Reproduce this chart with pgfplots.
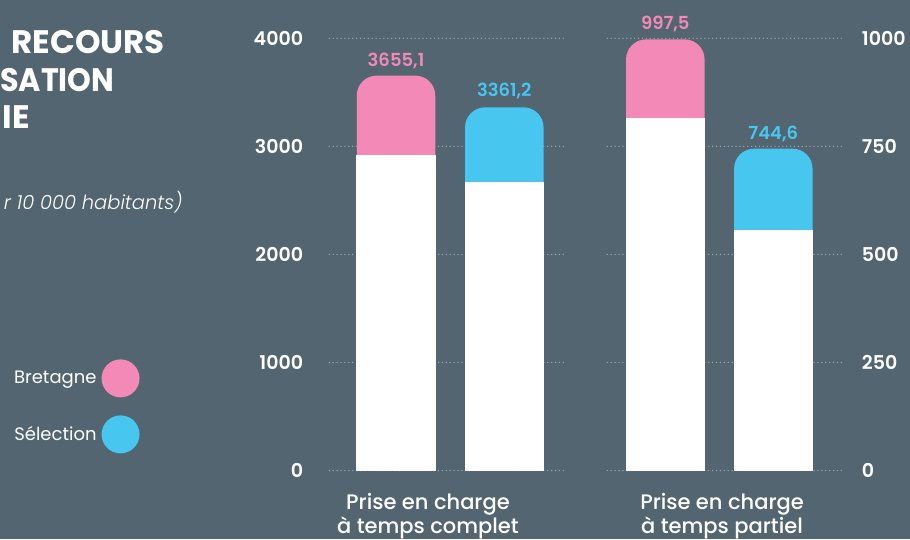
\documentclass[border=0pt]{standalone}
\usepackage{fontspec}
\setmainfont{Poppins}
\newfontfamily\psemi{Poppins SemiBold}
\newfontfamily\pmed{Poppins Medium}
\newfontfamily\plight{Poppins Light}
\usepackage{pgfplots}
\pgfplotsset{compat=1.18}
\definecolor{bg}{HTML}{536570}
\definecolor{pinkc}{HTML}{F289B6}
\definecolor{bluec}{HTML}{47C7F0}
\definecolor{gridc}{HTML}{97A4AC}
\pgfplotsset{
  baseax/.style={
    scale only axis, height=432.2pt, ymin=0, clip=false,
    axis line style={draw=none}, tick style={draw=none}, major tick length=0pt,
    ymajorgrids,
    grid style={gridc, line width=1.5pt, dash pattern=on 0pt off 3.9pt, line cap=round},
    yticklabel style={text=white, font=\psemi\fontsize{19}{19}\selectfont, inner sep=0pt},
    xticklabel style={text=white, font=\pmed\fontsize{21}{23.5}\selectfont, align=center, inner sep=0pt, anchor=north, yshift=-23pt},
    /pgf/number format/assume math mode=true,
    /pgf/number format/1000 sep={},
  },
  barst/.style={ybar, bar width=78.5, bar shift=0pt, draw=none},
  whitest/.style={ybar, bar width=78.5, bar shift=0pt, fill=white, draw=white, line width=0.8pt},
}
\begin{document}
\begin{tikzpicture}
\fill[bg] (0pt,0pt) rectangle (910pt,539pt);
% title (cut off at the left edge)
\node[anchor=base east, text=white, font=\bfseries\fontsize{32.5}{32.5}\selectfont, inner sep=0pt] at (165pt,485.7pt) {RECOURS};
\node[anchor=base west, text=white, font=\bfseries\fontsize{32.5}{32.5}\selectfont, inner sep=0pt, xscale=0.93] at (0pt,447.3pt) {SATION};
\node[anchor=base east, text=white, font=\bfseries\fontsize{32.5}{32.5}\selectfont, inner sep=0pt] at (30pt,410.7pt) {IE};
\node[anchor=base east, text=white, font=\plight\itshape\fontsize{19.5}{19.5}\selectfont, inner sep=0pt] at (182.7pt,329pt) {r 10 000 habitants)};

% left axis: temps complet
\begin{axis}[baseax, at={(329.3pt,68.5pt)}, anchor=south west, width=234pt,
  xmin=329.3, xmax=563.3, ymax=4000, ytick={0,1000,2000,3000,4000},
  yticklabel style={anchor=east, xshift=-26pt},
  xtick={428}, xticklabels={{Prise en charge\\à temps complet}},
  legend style={at={(-0.81,0.2576)}, anchor=north east, draw=none, fill=none,
    inner sep=0pt, row sep=18pt, column sep=5pt,
    nodes={inner sep=0pt, text=white, font=\fontsize{18}{18}\selectfont}},
  legend plot pos=right, legend cell align=right]
\addplot[barst, fill=pinkc, rounded corners=20pt,
  legend image code/.code={\fill[pinkc] (19pt,0pt) circle (19pt);}]
  coordinates {(396,3655.1)};
\addlegendentry{Bretagne}
\addplot[barst, fill=bluec, rounded corners=20pt,
  legend image code/.code={\fill[bluec] (19pt,0pt) circle (19pt);}]
  coordinates {(504.3,3361.2)};
\addlegendentry{Sélection}
\addplot[whitest, forget plot] coordinates {(396,2918) (504.3,2668)};
\node[text=pinkc, font=\psemi\fontsize{18}{18}\selectfont, yshift=15pt] at (axis cs:396,3655.1) {3655,1};
\node[text=bluec, font=\psemi\fontsize{18}{18}\selectfont, yshift=16pt] at (axis cs:504.3,3361.2) {3361,2};
\end{axis}

% right axis: temps partiel
\begin{axis}[baseax, at={(607.3pt,68.5pt)}, anchor=south west, width=237.7pt,
  xmin=607.3, xmax=845, ymax=1000, ytick={0,250,500,750,1000},
  yticklabel pos=right,
  yticklabel style={anchor=west, xshift=16.7pt},
  xtick={722}, xticklabels={{Prise en charge\\à temps partiel}}]
\addplot[barst, fill=pinkc, rounded corners=20pt] coordinates {(665.3,997.5)};
\addplot[barst, fill=bluec, rounded corners=20pt] coordinates {(773.3,744.6)};
\addplot[whitest] coordinates {(665.3,815) (773.3,556)};
\node[text=pinkc, font=\psemi\fontsize{18}{18}\selectfont, yshift=15pt] at (axis cs:665.3,997.5) {997,5};
\node[text=bluec, font=\psemi\fontsize{18}{18}\selectfont, yshift=15pt] at (axis cs:773.3,744.6) {744,6};
\end{axis}
\pgfresetboundingbox
\path[use as bounding box] (0pt,0pt) rectangle (910pt,539pt);
\end{tikzpicture}
\end{document}
